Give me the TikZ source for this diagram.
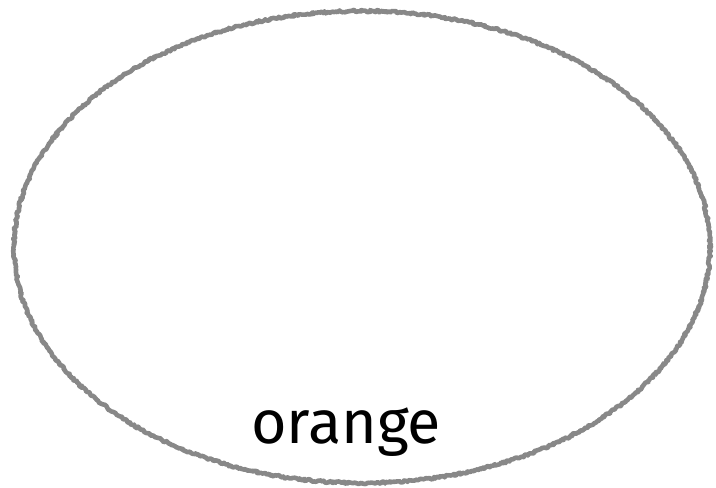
\documentclass[tikz,border=0pt]{standalone}
\usepackage{fontspec}
\newfontfamily\handfont{Fira Sans}
\usetikzlibrary{shapes.geometric,decorations.pathmorphing}
\definecolor{rimgray}{RGB}{136,136,136}
\tikzset{
  roughrim/.style={draw=rimgray,line width=4.6pt,line join=round,decorate,
    decoration={random steps,segment length=1.5pt,amplitude=1.1pt}},
  fruitlabel/.style={font=\handfont\fontsize{61}{63}\selectfont,anchor=base}
}
\begin{document}
\begin{tikzpicture}[x=1pt,y=-1pt]
  \useasboundingbox (0,0) rectangle (716,488);
  % Set outline
  \node[roughrim,ellipse,minimum width=696pt,minimum height=472pt,inner sep=0pt] (orangeset) at (362,247) {};
  % Label
  \node[fruitlabel] (orangelabel) at (346,443) {orange};
\end{tikzpicture}
\end{document}
